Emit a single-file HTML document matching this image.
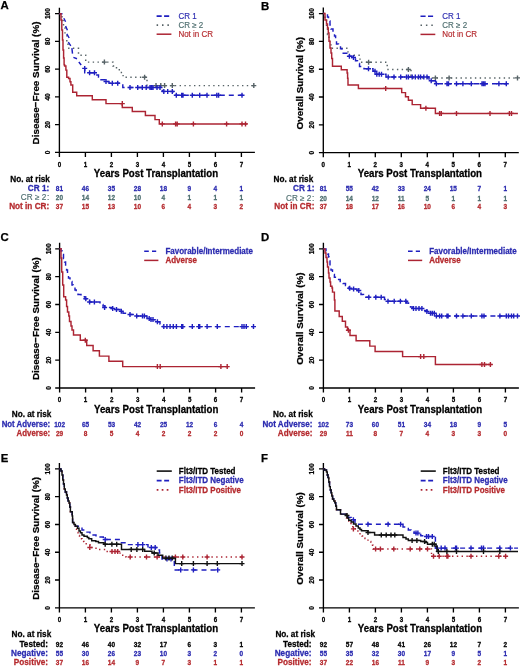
<!DOCTYPE html>
<html><head><meta charset="utf-8"><style>
html,body{margin:0;padding:0;background:#fff;}
svg{display:block;filter:blur(0.35px);}
text{font-family:"Liberation Sans",sans-serif;}
</style></head><body>
<svg width="520" height="666" viewBox="0 0 520 666">
<rect width="520" height="666" fill="#fff"/>
<text x="0.60" y="9.10" font-size="11.4" font-weight="bold" fill="#000" text-anchor="start" stroke="#000" stroke-width="0.25">A</text>
<path d="M59.4,7.63V152.4H254.90M55.00,152.40H59.4M55.00,124.64H59.4M55.00,96.88H59.4M55.00,69.12H59.4M55.00,41.36H59.4M55.00,13.60H59.4M59.40,152.4V157.00M85.40,152.4V157.00M111.40,152.4V157.00M137.40,152.4V157.00M163.40,152.4V157.00M189.40,152.4V157.00M215.40,152.4V157.00M241.40,152.4V157.00" stroke="#000" stroke-width="1.35" fill="none"/>
<text x="50.40" y="152.40" font-size="6.6" font-weight="bold" fill="#000" text-anchor="middle" stroke="#000" stroke-width="0.25" transform="rotate(-90 50.4 152.4)">0</text>
<text x="50.40" y="124.64" font-size="6.6" font-weight="bold" fill="#000" text-anchor="middle" stroke="#000" stroke-width="0.25" transform="rotate(-90 50.4 124.64000000000001)">20</text>
<text x="50.40" y="96.88" font-size="6.6" font-weight="bold" fill="#000" text-anchor="middle" stroke="#000" stroke-width="0.25" transform="rotate(-90 50.4 96.88000000000001)">40</text>
<text x="50.40" y="69.12" font-size="6.6" font-weight="bold" fill="#000" text-anchor="middle" stroke="#000" stroke-width="0.25" transform="rotate(-90 50.4 69.12)">60</text>
<text x="50.40" y="41.36" font-size="6.6" font-weight="bold" fill="#000" text-anchor="middle" stroke="#000" stroke-width="0.25" transform="rotate(-90 50.4 41.360000000000014)">80</text>
<text x="50.40" y="13.60" font-size="6.6" font-weight="bold" fill="#000" text-anchor="middle" stroke="#000" stroke-width="0.25" transform="rotate(-90 50.4 13.600000000000023)">100</text>
<text x="59.40" y="166.80" font-size="6.2" font-weight="bold" fill="#000" text-anchor="middle" stroke="#000" stroke-width="0.25" transform="translate(0 166.80) scale(1 1.18) translate(0 -166.80)">0</text>
<text x="85.40" y="166.80" font-size="6.2" font-weight="bold" fill="#000" text-anchor="middle" stroke="#000" stroke-width="0.25" transform="translate(0 166.80) scale(1 1.18) translate(0 -166.80)">1</text>
<text x="111.40" y="166.80" font-size="6.2" font-weight="bold" fill="#000" text-anchor="middle" stroke="#000" stroke-width="0.25" transform="translate(0 166.80) scale(1 1.18) translate(0 -166.80)">2</text>
<text x="137.40" y="166.80" font-size="6.2" font-weight="bold" fill="#000" text-anchor="middle" stroke="#000" stroke-width="0.25" transform="translate(0 166.80) scale(1 1.18) translate(0 -166.80)">3</text>
<text x="163.40" y="166.80" font-size="6.2" font-weight="bold" fill="#000" text-anchor="middle" stroke="#000" stroke-width="0.25" transform="translate(0 166.80) scale(1 1.18) translate(0 -166.80)">4</text>
<text x="189.40" y="166.80" font-size="6.2" font-weight="bold" fill="#000" text-anchor="middle" stroke="#000" stroke-width="0.25" transform="translate(0 166.80) scale(1 1.18) translate(0 -166.80)">5</text>
<text x="215.40" y="166.80" font-size="6.2" font-weight="bold" fill="#000" text-anchor="middle" stroke="#000" stroke-width="0.25" transform="translate(0 166.80) scale(1 1.18) translate(0 -166.80)">6</text>
<text x="241.40" y="166.80" font-size="6.2" font-weight="bold" fill="#000" text-anchor="middle" stroke="#000" stroke-width="0.25" transform="translate(0 166.80) scale(1 1.18) translate(0 -166.80)">7</text>
<text x="156.00" y="177.00" font-size="9.7" font-weight="bold" fill="#000" text-anchor="middle" stroke="#000" stroke-width="0.25" transform="translate(0 177.00) scale(1 1.04) translate(0 -177.00)">Years Post Transplantation</text>
<text x="39.10" y="83.00" font-size="9.85" font-weight="bold" fill="#000" text-anchor="middle" stroke="#000" stroke-width="0.25" transform="rotate(-90 39.099999999999994 83.0)">Disease−Free Survival (%)</text>
<path d="M156.60,16.10H169.20" stroke="#1f1fc0" stroke-width="1.6" fill="none" stroke-dasharray="5.1 2.4"/>
<text x="178.40" y="19.00" font-size="8.0" font-weight="normal" fill="#2b2bb0" text-anchor="start" stroke="#2b2bb0" stroke-width="0.15" transform="translate(0 19.00) scale(1 1.04) translate(0 -19.00)">CR 1</text>
<path d="M156.60,25.10H169.20" stroke="#566266" stroke-width="1.6" fill="none" stroke-dasharray="1.5 3.9"/>
<text x="178.40" y="28.00" font-size="8.0" font-weight="normal" fill="#4f6f70" text-anchor="start" stroke="#4f6f70" stroke-width="0.15" transform="translate(0 28.00) scale(1 1.04) translate(0 -28.00)">CR ≥ 2</text>
<path d="M156.60,34.20H171.40" stroke="#ac2433" stroke-width="1.5" fill="none" stroke-dasharray="none"/>
<text x="178.40" y="37.10" font-size="8.0" font-weight="normal" fill="#b52a2e" text-anchor="start" stroke="#b52a2e" stroke-width="0.15" transform="translate(0 37.10) scale(1 1.04) translate(0 -37.10)">Not in CR</text>
<path d="M59.5,13.7H62V20.6H63.5V27.5H65V34.5H66.8V41.4H68V48.3H78.5V55.2H85.7V62.1H113V66H116.5V69.8H120V72.5H122.3V75.6H124V77.3H147V85.6H254" stroke="#566266" stroke-width="1.45" fill="none" stroke-dasharray="1.4 3.4" stroke-dashoffset="0"/>
<path d="M101.90,62.10H106.90M104.40,59.60V64.60M142.10,77.30H147.10M144.60,74.80V79.80M153.50,85.60H158.50M156.00,83.10V88.10M158.30,85.60H163.30M160.80,83.10V88.10M162.10,85.60H167.10M164.60,83.10V88.10M169.80,85.60H174.80M172.30,83.10V88.10M251.30,85.60H256.30M253.80,83.10V88.10" stroke="#566266" stroke-width="1.4" fill="none"/>
<path d="M84.7,68.4V72.8H96V75H98.5V77H101V79.8H105V81.5H109V83.2H122.8V87.5H162.3V91.4H173.5V95.3H243" stroke="#1f1fc0" stroke-width="1.45" fill="none" stroke-dasharray="5 4" stroke-dashoffset="0"/>
<path d="M82.20,68.40H87.20M84.70,65.90V70.90M87.10,72.80H92.10M89.60,70.30V75.30M92.00,72.80H97.00M94.50,70.30V75.30M103.50,81.50H108.50M106.00,79.00V84.00M109.80,83.20H114.80M112.30,80.70V85.70M115.20,83.20H120.20M117.70,80.70V85.70M127.50,87.50H132.50M130.00,85.00V90.00M135.20,87.50H140.20M137.70,85.00V90.00M139.80,87.50H144.80M142.30,85.00V90.00M143.70,87.50H148.70M146.20,85.00V90.00M147.50,87.50H152.50M150.00,85.00V90.00M149.00,87.50H154.00M151.50,85.00V90.00M150.50,87.50H155.50M153.00,85.00V90.00M154.50,87.50H159.50M157.00,85.00V90.00M157.50,87.50H162.50M160.00,85.00V90.00M161.30,91.40H166.30M163.80,88.90V93.90M165.20,91.40H170.20M167.70,88.90V93.90M169.80,91.40H174.80M172.30,88.90V93.90M173.80,95.30H178.80M176.30,92.80V97.80M179.20,95.30H184.20M181.70,92.80V97.80M180.50,95.30H185.50M183.00,92.80V97.80M189.80,95.30H194.80M192.30,92.80V97.80M197.20,95.30H202.20M199.70,92.80V97.80M204.50,95.30H209.50M207.00,92.80V97.80M214.30,95.30H219.30M216.80,92.80V97.80M216.10,95.30H221.10M218.60,92.80V97.80M239.50,95.30H244.50M242.00,92.80V97.80" stroke="#1f1fc0" stroke-width="1.4" fill="none"/>
<path d="M59.5,13.7H62.5M63.8,18.2L65.6,21.8M65.6,26L67.4,30.2M66.8,33.8L69.2,38M68.3,42.2L70.8,45.8M71.9,48.2L72.5,53.6M73.4,57.4L77,58.8M78.8,62L81.2,65" stroke="#1f1fc0" stroke-width="1.45" fill="none" stroke-dasharray="none" stroke-dashoffset="0"/>
<path d="M59.5,13.7H61V20H61.8V30H62.5V40H63V50H63.6V58H64.1V64.7H64.6V66H65.9V70.1H66.8V77.3H68.6V78.5H70V81.8H70.9V85H72.7V92.2H76.7V95.8H92.3V99.8H106V103.6H122.3V107.5H132.3V111.5H145.4V115.5H155V119.6H159.3V123.9H247.3" stroke="#ac2433" stroke-width="1.45" fill="none" stroke-dasharray="none" stroke-dashoffset="0"/>
<path d="M119.80,103.60H124.80M122.30,101.10V106.10M159.80,123.90H164.80M162.30,121.40V126.40M173.10,123.90H178.10M175.60,121.40V126.40M174.70,123.90H179.70M177.20,121.40V126.40M190.90,123.90H195.90M193.40,121.40V126.40M224.10,123.90H229.10M226.60,121.40V126.40M239.50,123.90H244.50M242.00,121.40V126.40M243.00,123.90H248.00M245.50,121.40V126.40" stroke="#ac2433" stroke-width="1.4" fill="none"/>
<text x="10.30" y="181.60" font-size="8.2" font-weight="bold" fill="#000" text-anchor="start" stroke="#000" stroke-width="0.25" transform="translate(0 181.60) scale(1 1.04) translate(0 -181.60)">No. at risk</text>
<text x="49.20" y="191.20" font-size="8.2" font-weight="bold" fill="#2b2bb0" text-anchor="end" stroke="#2b2bb0" stroke-width="0.25" transform="translate(0 191.20) scale(1 1.04) translate(0 -191.20)">CR 1:</text>
<text x="59.40" y="191.20" font-size="6.5" font-weight="bold" fill="#2b2bb0" text-anchor="middle" stroke="#2b2bb0" stroke-width="0.25" transform="translate(0 191.20) scale(1 1.18) translate(0 -191.20)">81</text>
<text x="85.40" y="191.20" font-size="6.5" font-weight="bold" fill="#2b2bb0" text-anchor="middle" stroke="#2b2bb0" stroke-width="0.25" transform="translate(0 191.20) scale(1 1.18) translate(0 -191.20)">46</text>
<text x="111.40" y="191.20" font-size="6.5" font-weight="bold" fill="#2b2bb0" text-anchor="middle" stroke="#2b2bb0" stroke-width="0.25" transform="translate(0 191.20) scale(1 1.18) translate(0 -191.20)">35</text>
<text x="137.40" y="191.20" font-size="6.5" font-weight="bold" fill="#2b2bb0" text-anchor="middle" stroke="#2b2bb0" stroke-width="0.25" transform="translate(0 191.20) scale(1 1.18) translate(0 -191.20)">28</text>
<text x="163.40" y="191.20" font-size="6.5" font-weight="bold" fill="#2b2bb0" text-anchor="middle" stroke="#2b2bb0" stroke-width="0.25" transform="translate(0 191.20) scale(1 1.18) translate(0 -191.20)">18</text>
<text x="189.40" y="191.20" font-size="6.5" font-weight="bold" fill="#2b2bb0" text-anchor="middle" stroke="#2b2bb0" stroke-width="0.25" transform="translate(0 191.20) scale(1 1.18) translate(0 -191.20)">9</text>
<text x="215.40" y="191.20" font-size="6.5" font-weight="bold" fill="#2b2bb0" text-anchor="middle" stroke="#2b2bb0" stroke-width="0.25" transform="translate(0 191.20) scale(1 1.18) translate(0 -191.20)">4</text>
<text x="241.40" y="191.20" font-size="6.5" font-weight="bold" fill="#2b2bb0" text-anchor="middle" stroke="#2b2bb0" stroke-width="0.25" transform="translate(0 191.20) scale(1 1.18) translate(0 -191.20)">1</text>
<text x="49.20" y="200.40" font-size="8.2" font-weight="normal" fill="#4f6f70" text-anchor="end" stroke="#4f6f70" stroke-width="0.15" transform="translate(0 200.40) scale(1 1.04) translate(0 -200.40)">CR ≥ 2 :</text>
<text x="59.40" y="200.40" font-size="6.5" font-weight="bold" fill="#4f6f70" text-anchor="middle" stroke="#4f6f70" stroke-width="0.25" transform="translate(0 200.40) scale(1 1.18) translate(0 -200.40)">20</text>
<text x="85.40" y="200.40" font-size="6.5" font-weight="bold" fill="#4f6f70" text-anchor="middle" stroke="#4f6f70" stroke-width="0.25" transform="translate(0 200.40) scale(1 1.18) translate(0 -200.40)">14</text>
<text x="111.40" y="200.40" font-size="6.5" font-weight="bold" fill="#4f6f70" text-anchor="middle" stroke="#4f6f70" stroke-width="0.25" transform="translate(0 200.40) scale(1 1.18) translate(0 -200.40)">12</text>
<text x="137.40" y="200.40" font-size="6.5" font-weight="bold" fill="#4f6f70" text-anchor="middle" stroke="#4f6f70" stroke-width="0.25" transform="translate(0 200.40) scale(1 1.18) translate(0 -200.40)">10</text>
<text x="163.40" y="200.40" font-size="6.5" font-weight="bold" fill="#4f6f70" text-anchor="middle" stroke="#4f6f70" stroke-width="0.25" transform="translate(0 200.40) scale(1 1.18) translate(0 -200.40)">4</text>
<text x="189.40" y="200.40" font-size="6.5" font-weight="bold" fill="#4f6f70" text-anchor="middle" stroke="#4f6f70" stroke-width="0.25" transform="translate(0 200.40) scale(1 1.18) translate(0 -200.40)">1</text>
<text x="215.40" y="200.40" font-size="6.5" font-weight="bold" fill="#4f6f70" text-anchor="middle" stroke="#4f6f70" stroke-width="0.25" transform="translate(0 200.40) scale(1 1.18) translate(0 -200.40)">1</text>
<text x="241.40" y="200.40" font-size="6.5" font-weight="bold" fill="#4f6f70" text-anchor="middle" stroke="#4f6f70" stroke-width="0.25" transform="translate(0 200.40) scale(1 1.18) translate(0 -200.40)">1</text>
<text x="49.20" y="209.30" font-size="8.2" font-weight="bold" fill="#b52a2e" text-anchor="end" stroke="#b52a2e" stroke-width="0.25" transform="translate(0 209.30) scale(1 1.04) translate(0 -209.30)">Not in CR:</text>
<text x="59.40" y="209.30" font-size="6.5" font-weight="bold" fill="#b52a2e" text-anchor="middle" stroke="#b52a2e" stroke-width="0.25" transform="translate(0 209.30) scale(1 1.18) translate(0 -209.30)">37</text>
<text x="85.40" y="209.30" font-size="6.5" font-weight="bold" fill="#b52a2e" text-anchor="middle" stroke="#b52a2e" stroke-width="0.25" transform="translate(0 209.30) scale(1 1.18) translate(0 -209.30)">15</text>
<text x="111.40" y="209.30" font-size="6.5" font-weight="bold" fill="#b52a2e" text-anchor="middle" stroke="#b52a2e" stroke-width="0.25" transform="translate(0 209.30) scale(1 1.18) translate(0 -209.30)">13</text>
<text x="137.40" y="209.30" font-size="6.5" font-weight="bold" fill="#b52a2e" text-anchor="middle" stroke="#b52a2e" stroke-width="0.25" transform="translate(0 209.30) scale(1 1.18) translate(0 -209.30)">10</text>
<text x="163.40" y="209.30" font-size="6.5" font-weight="bold" fill="#b52a2e" text-anchor="middle" stroke="#b52a2e" stroke-width="0.25" transform="translate(0 209.30) scale(1 1.18) translate(0 -209.30)">6</text>
<text x="189.40" y="209.30" font-size="6.5" font-weight="bold" fill="#b52a2e" text-anchor="middle" stroke="#b52a2e" stroke-width="0.25" transform="translate(0 209.30) scale(1 1.18) translate(0 -209.30)">4</text>
<text x="215.40" y="209.30" font-size="6.5" font-weight="bold" fill="#b52a2e" text-anchor="middle" stroke="#b52a2e" stroke-width="0.25" transform="translate(0 209.30) scale(1 1.18) translate(0 -209.30)">3</text>
<text x="241.40" y="209.30" font-size="6.5" font-weight="bold" fill="#b52a2e" text-anchor="middle" stroke="#b52a2e" stroke-width="0.25" transform="translate(0 209.30) scale(1 1.18) translate(0 -209.30)">2</text>
<text x="261.00" y="9.50" font-size="11.4" font-weight="bold" fill="#000" text-anchor="start" stroke="#000" stroke-width="0.25">B</text>
<path d="M323.3,7.62V152.6H518.80M318.90,152.60H323.3M318.90,124.80H323.3M318.90,97.00H323.3M318.90,69.20H323.3M318.90,41.40H323.3M318.90,13.60H323.3M323.30,152.6V157.20M349.30,152.6V157.20M375.30,152.6V157.20M401.30,152.6V157.20M427.30,152.6V157.20M453.30,152.6V157.20M479.30,152.6V157.20M505.30,152.6V157.20" stroke="#000" stroke-width="1.35" fill="none"/>
<text x="314.30" y="152.60" font-size="6.6" font-weight="bold" fill="#000" text-anchor="middle" stroke="#000" stroke-width="0.25" transform="rotate(-90 314.3 152.6)">0</text>
<text x="314.30" y="124.80" font-size="6.6" font-weight="bold" fill="#000" text-anchor="middle" stroke="#000" stroke-width="0.25" transform="rotate(-90 314.3 124.8)">20</text>
<text x="314.30" y="97.00" font-size="6.6" font-weight="bold" fill="#000" text-anchor="middle" stroke="#000" stroke-width="0.25" transform="rotate(-90 314.3 97.0)">40</text>
<text x="314.30" y="69.20" font-size="6.6" font-weight="bold" fill="#000" text-anchor="middle" stroke="#000" stroke-width="0.25" transform="rotate(-90 314.3 69.2)">60</text>
<text x="314.30" y="41.40" font-size="6.6" font-weight="bold" fill="#000" text-anchor="middle" stroke="#000" stroke-width="0.25" transform="rotate(-90 314.3 41.400000000000006)">80</text>
<text x="314.30" y="13.60" font-size="6.6" font-weight="bold" fill="#000" text-anchor="middle" stroke="#000" stroke-width="0.25" transform="rotate(-90 314.3 13.599999999999994)">100</text>
<text x="323.30" y="167.00" font-size="6.2" font-weight="bold" fill="#000" text-anchor="middle" stroke="#000" stroke-width="0.25" transform="translate(0 167.00) scale(1 1.18) translate(0 -167.00)">0</text>
<text x="349.30" y="167.00" font-size="6.2" font-weight="bold" fill="#000" text-anchor="middle" stroke="#000" stroke-width="0.25" transform="translate(0 167.00) scale(1 1.18) translate(0 -167.00)">1</text>
<text x="375.30" y="167.00" font-size="6.2" font-weight="bold" fill="#000" text-anchor="middle" stroke="#000" stroke-width="0.25" transform="translate(0 167.00) scale(1 1.18) translate(0 -167.00)">2</text>
<text x="401.30" y="167.00" font-size="6.2" font-weight="bold" fill="#000" text-anchor="middle" stroke="#000" stroke-width="0.25" transform="translate(0 167.00) scale(1 1.18) translate(0 -167.00)">3</text>
<text x="427.30" y="167.00" font-size="6.2" font-weight="bold" fill="#000" text-anchor="middle" stroke="#000" stroke-width="0.25" transform="translate(0 167.00) scale(1 1.18) translate(0 -167.00)">4</text>
<text x="453.30" y="167.00" font-size="6.2" font-weight="bold" fill="#000" text-anchor="middle" stroke="#000" stroke-width="0.25" transform="translate(0 167.00) scale(1 1.18) translate(0 -167.00)">5</text>
<text x="479.30" y="167.00" font-size="6.2" font-weight="bold" fill="#000" text-anchor="middle" stroke="#000" stroke-width="0.25" transform="translate(0 167.00) scale(1 1.18) translate(0 -167.00)">6</text>
<text x="505.30" y="167.00" font-size="6.2" font-weight="bold" fill="#000" text-anchor="middle" stroke="#000" stroke-width="0.25" transform="translate(0 167.00) scale(1 1.18) translate(0 -167.00)">7</text>
<text x="419.90" y="177.20" font-size="9.7" font-weight="bold" fill="#000" text-anchor="middle" stroke="#000" stroke-width="0.25" transform="translate(0 177.20) scale(1 1.04) translate(0 -177.20)">Years Post Transplantation</text>
<text x="303.00" y="83.20" font-size="9.85" font-weight="bold" fill="#000" text-anchor="middle" stroke="#000" stroke-width="0.25" transform="rotate(-90 303.0 83.19999999999999)">Overall Survival (%)</text>
<path d="M420.50,16.30H433.10" stroke="#1f1fc0" stroke-width="1.6" fill="none" stroke-dasharray="5.1 2.4"/>
<text x="442.30" y="19.20" font-size="8.0" font-weight="normal" fill="#2b2bb0" text-anchor="start" stroke="#2b2bb0" stroke-width="0.15" transform="translate(0 19.20) scale(1 1.04) translate(0 -19.20)">CR 1</text>
<path d="M420.50,25.30H433.10" stroke="#566266" stroke-width="1.6" fill="none" stroke-dasharray="1.5 3.9"/>
<text x="442.30" y="28.20" font-size="8.0" font-weight="normal" fill="#4f6f70" text-anchor="start" stroke="#4f6f70" stroke-width="0.15" transform="translate(0 28.20) scale(1 1.04) translate(0 -28.20)">CR ≥ 2</text>
<path d="M420.50,34.40H435.30" stroke="#ac2433" stroke-width="1.5" fill="none" stroke-dasharray="none"/>
<text x="442.30" y="37.30" font-size="8.0" font-weight="normal" fill="#b52a2e" text-anchor="start" stroke="#b52a2e" stroke-width="0.15" transform="translate(0 37.30) scale(1 1.04) translate(0 -37.30)">Not in CR</text>
<path d="M323.3,13.5H325V20.5H326.5V27.5H327.5V34.5H329V41.4H331V48.3H348V55.2H360V62.2H387.2V69.5H411V77.9H518" stroke="#566266" stroke-width="1.45" fill="none" stroke-dasharray="1.4 3.4" stroke-dashoffset="0"/>
<path d="M366.10,62.20H371.10M368.60,59.70V64.70M405.90,69.50H410.90M408.40,67.00V72.00M432.90,77.90H437.90M435.40,75.40V80.40M446.60,77.90H451.60M449.10,75.40V80.40M515.00,77.90H520.00M517.50,75.40V80.40" stroke="#566266" stroke-width="1.4" fill="none"/>
<path d="M323.3,13.5H327.5V17H328.5V21H330V25H331V29H333V32.5H334.5V36H335.6V40H336.5V44H338.5V46H340.5V48.7H342V53.3H347.5V56.2H352V57.5H355.5V60.8H357.5V63.5H359.5V66.5H364V68.8H373V71.2H375.7V74.3H386V77H429V80.7H435.4V83.8H507.3" stroke="#1f1fc0" stroke-width="1.45" fill="none" stroke-dasharray="5 4" stroke-dashoffset="4"/>
<path d="M346.90,56.20H351.90M349.40,53.70V58.70M351.00,57.50H356.00M353.50,55.00V60.00M366.00,68.80H371.00M368.50,66.30V71.30M372.50,71.20H377.50M375.00,68.70V73.70M374.30,74.30H379.30M376.80,71.80V76.80M376.70,74.30H381.70M379.20,71.80V76.80M379.00,74.30H384.00M381.50,71.80V76.80M385.70,77.00H390.70M388.20,74.50V79.50M391.50,77.00H396.50M394.00,74.50V79.50M398.20,77.00H403.20M400.70,74.50V79.50M404.00,77.00H409.00M406.50,74.50V79.50M405.90,77.00H410.90M408.40,74.50V79.50M409.70,77.00H414.70M412.20,74.50V79.50M412.80,77.00H417.80M415.30,74.50V79.50M416.00,77.00H421.00M418.50,74.50V79.50M418.10,77.00H423.10M420.60,74.50V79.50M421.30,77.00H426.30M423.80,74.50V79.50M424.50,77.00H429.50M427.00,74.50V79.50M428.70,80.70H433.70M431.20,78.20V83.20M433.90,83.80H438.90M436.40,81.30V86.30M444.50,83.80H449.50M447.00,81.30V86.30M446.00,83.80H451.00M448.50,81.30V86.30M454.00,83.80H459.00M456.50,81.30V86.30M460.40,83.80H465.40M462.90,81.30V86.30M468.80,83.80H473.80M471.30,81.30V86.30M479.50,83.80H484.50M482.00,81.30V86.30M481.00,83.80H486.00M483.50,81.30V86.30M482.50,83.80H487.50M485.00,81.30V86.30M496.40,83.80H501.40M498.90,81.30V86.30M503.80,83.80H508.80M506.30,81.30V86.30" stroke="#1f1fc0" stroke-width="1.4" fill="none"/>
<path d="M323.3,13.5H325V20H326.5V24H327.5V28H328.3V33H329V41.2H330V48H331V53H331.7V58.5H332.5V66.2H341.3V69.8H347.1V72.9H347.6V78.2H348V84.9H358.4V88.4H401.7V92.6H405.5V96.8H408.4V100.2H412.2V104.6H420.6V108.2H435.4V113.4H517.9" stroke="#ac2433" stroke-width="1.45" fill="none" stroke-dasharray="none" stroke-dashoffset="0"/>
<path d="M383.20,88.40H388.20M385.70,85.90V90.90M423.40,108.20H428.40M425.90,105.70V110.70M437.10,113.40H442.10M439.60,110.90V115.90M438.80,113.40H443.80M441.30,110.90V115.90M454.00,113.40H459.00M456.50,110.90V115.90M487.50,113.40H492.50M490.00,110.90V115.90M506.90,113.40H511.90M509.40,110.90V115.90M509.00,113.40H514.00M511.50,110.90V115.90" stroke="#ac2433" stroke-width="1.4" fill="none"/>
<text x="273.60" y="181.80" font-size="8.2" font-weight="bold" fill="#000" text-anchor="start" stroke="#000" stroke-width="0.25" transform="translate(0 181.80) scale(1 1.04) translate(0 -181.80)">No. at risk</text>
<text x="314.40" y="191.40" font-size="8.2" font-weight="bold" fill="#2b2bb0" text-anchor="end" stroke="#2b2bb0" stroke-width="0.25" transform="translate(0 191.40) scale(1 1.04) translate(0 -191.40)">CR 1:</text>
<text x="323.30" y="191.40" font-size="6.5" font-weight="bold" fill="#2b2bb0" text-anchor="middle" stroke="#2b2bb0" stroke-width="0.25" transform="translate(0 191.40) scale(1 1.18) translate(0 -191.40)">81</text>
<text x="349.30" y="191.40" font-size="6.5" font-weight="bold" fill="#2b2bb0" text-anchor="middle" stroke="#2b2bb0" stroke-width="0.25" transform="translate(0 191.40) scale(1 1.18) translate(0 -191.40)">55</text>
<text x="375.30" y="191.40" font-size="6.5" font-weight="bold" fill="#2b2bb0" text-anchor="middle" stroke="#2b2bb0" stroke-width="0.25" transform="translate(0 191.40) scale(1 1.18) translate(0 -191.40)">42</text>
<text x="401.30" y="191.40" font-size="6.5" font-weight="bold" fill="#2b2bb0" text-anchor="middle" stroke="#2b2bb0" stroke-width="0.25" transform="translate(0 191.40) scale(1 1.18) translate(0 -191.40)">33</text>
<text x="427.30" y="191.40" font-size="6.5" font-weight="bold" fill="#2b2bb0" text-anchor="middle" stroke="#2b2bb0" stroke-width="0.25" transform="translate(0 191.40) scale(1 1.18) translate(0 -191.40)">24</text>
<text x="453.30" y="191.40" font-size="6.5" font-weight="bold" fill="#2b2bb0" text-anchor="middle" stroke="#2b2bb0" stroke-width="0.25" transform="translate(0 191.40) scale(1 1.18) translate(0 -191.40)">15</text>
<text x="479.30" y="191.40" font-size="6.5" font-weight="bold" fill="#2b2bb0" text-anchor="middle" stroke="#2b2bb0" stroke-width="0.25" transform="translate(0 191.40) scale(1 1.18) translate(0 -191.40)">7</text>
<text x="505.30" y="191.40" font-size="6.5" font-weight="bold" fill="#2b2bb0" text-anchor="middle" stroke="#2b2bb0" stroke-width="0.25" transform="translate(0 191.40) scale(1 1.18) translate(0 -191.40)">1</text>
<text x="314.40" y="200.60" font-size="8.2" font-weight="normal" fill="#4f6f70" text-anchor="end" stroke="#4f6f70" stroke-width="0.15" transform="translate(0 200.60) scale(1 1.04) translate(0 -200.60)">CR ≥ 2 :</text>
<text x="323.30" y="200.60" font-size="6.5" font-weight="bold" fill="#4f6f70" text-anchor="middle" stroke="#4f6f70" stroke-width="0.25" transform="translate(0 200.60) scale(1 1.18) translate(0 -200.60)">20</text>
<text x="349.30" y="200.60" font-size="6.5" font-weight="bold" fill="#4f6f70" text-anchor="middle" stroke="#4f6f70" stroke-width="0.25" transform="translate(0 200.60) scale(1 1.18) translate(0 -200.60)">14</text>
<text x="375.30" y="200.60" font-size="6.5" font-weight="bold" fill="#4f6f70" text-anchor="middle" stroke="#4f6f70" stroke-width="0.25" transform="translate(0 200.60) scale(1 1.18) translate(0 -200.60)">12</text>
<text x="401.30" y="200.60" font-size="6.5" font-weight="bold" fill="#4f6f70" text-anchor="middle" stroke="#4f6f70" stroke-width="0.25" transform="translate(0 200.60) scale(1 1.18) translate(0 -200.60)">11</text>
<text x="427.30" y="200.60" font-size="6.5" font-weight="bold" fill="#4f6f70" text-anchor="middle" stroke="#4f6f70" stroke-width="0.25" transform="translate(0 200.60) scale(1 1.18) translate(0 -200.60)">5</text>
<text x="453.30" y="200.60" font-size="6.5" font-weight="bold" fill="#4f6f70" text-anchor="middle" stroke="#4f6f70" stroke-width="0.25" transform="translate(0 200.60) scale(1 1.18) translate(0 -200.60)">1</text>
<text x="479.30" y="200.60" font-size="6.5" font-weight="bold" fill="#4f6f70" text-anchor="middle" stroke="#4f6f70" stroke-width="0.25" transform="translate(0 200.60) scale(1 1.18) translate(0 -200.60)">1</text>
<text x="505.30" y="200.60" font-size="6.5" font-weight="bold" fill="#4f6f70" text-anchor="middle" stroke="#4f6f70" stroke-width="0.25" transform="translate(0 200.60) scale(1 1.18) translate(0 -200.60)">1</text>
<text x="314.40" y="209.50" font-size="8.2" font-weight="bold" fill="#b52a2e" text-anchor="end" stroke="#b52a2e" stroke-width="0.25" transform="translate(0 209.50) scale(1 1.04) translate(0 -209.50)">Not in CR:</text>
<text x="323.30" y="209.50" font-size="6.5" font-weight="bold" fill="#b52a2e" text-anchor="middle" stroke="#b52a2e" stroke-width="0.25" transform="translate(0 209.50) scale(1 1.18) translate(0 -209.50)">37</text>
<text x="349.30" y="209.50" font-size="6.5" font-weight="bold" fill="#b52a2e" text-anchor="middle" stroke="#b52a2e" stroke-width="0.25" transform="translate(0 209.50) scale(1 1.18) translate(0 -209.50)">18</text>
<text x="375.30" y="209.50" font-size="6.5" font-weight="bold" fill="#b52a2e" text-anchor="middle" stroke="#b52a2e" stroke-width="0.25" transform="translate(0 209.50) scale(1 1.18) translate(0 -209.50)">17</text>
<text x="401.30" y="209.50" font-size="6.5" font-weight="bold" fill="#b52a2e" text-anchor="middle" stroke="#b52a2e" stroke-width="0.25" transform="translate(0 209.50) scale(1 1.18) translate(0 -209.50)">16</text>
<text x="427.30" y="209.50" font-size="6.5" font-weight="bold" fill="#b52a2e" text-anchor="middle" stroke="#b52a2e" stroke-width="0.25" transform="translate(0 209.50) scale(1 1.18) translate(0 -209.50)">10</text>
<text x="453.30" y="209.50" font-size="6.5" font-weight="bold" fill="#b52a2e" text-anchor="middle" stroke="#b52a2e" stroke-width="0.25" transform="translate(0 209.50) scale(1 1.18) translate(0 -209.50)">6</text>
<text x="479.30" y="209.50" font-size="6.5" font-weight="bold" fill="#b52a2e" text-anchor="middle" stroke="#b52a2e" stroke-width="0.25" transform="translate(0 209.50) scale(1 1.18) translate(0 -209.50)">4</text>
<text x="505.30" y="209.50" font-size="6.5" font-weight="bold" fill="#b52a2e" text-anchor="middle" stroke="#b52a2e" stroke-width="0.25" transform="translate(0 209.50) scale(1 1.18) translate(0 -209.50)">3</text>
<text x="0.60" y="240.80" font-size="11.4" font-weight="bold" fill="#000" text-anchor="start" stroke="#000" stroke-width="0.25">C</text>
<path d="M59.6,242.81V388.0H255.10M55.20,388.00H59.6M55.20,360.16H59.6M55.20,332.32H59.6M55.20,304.48H59.6M55.20,276.64H59.6M55.20,248.80H59.6M59.60,388.0V392.60M85.60,388.0V392.60M111.60,388.0V392.60M137.60,388.0V392.60M163.60,388.0V392.60M189.60,388.0V392.60M215.60,388.0V392.60M241.60,388.0V392.60" stroke="#000" stroke-width="1.35" fill="none"/>
<text x="50.60" y="388.00" font-size="6.6" font-weight="bold" fill="#000" text-anchor="middle" stroke="#000" stroke-width="0.25" transform="rotate(-90 50.6 388.0)">0</text>
<text x="50.60" y="360.16" font-size="6.6" font-weight="bold" fill="#000" text-anchor="middle" stroke="#000" stroke-width="0.25" transform="rotate(-90 50.6 360.16)">20</text>
<text x="50.60" y="332.32" font-size="6.6" font-weight="bold" fill="#000" text-anchor="middle" stroke="#000" stroke-width="0.25" transform="rotate(-90 50.6 332.32)">40</text>
<text x="50.60" y="304.48" font-size="6.6" font-weight="bold" fill="#000" text-anchor="middle" stroke="#000" stroke-width="0.25" transform="rotate(-90 50.6 304.48)">60</text>
<text x="50.60" y="276.64" font-size="6.6" font-weight="bold" fill="#000" text-anchor="middle" stroke="#000" stroke-width="0.25" transform="rotate(-90 50.6 276.64)">80</text>
<text x="50.60" y="248.80" font-size="6.6" font-weight="bold" fill="#000" text-anchor="middle" stroke="#000" stroke-width="0.25" transform="rotate(-90 50.6 248.8)">100</text>
<text x="59.60" y="402.40" font-size="6.2" font-weight="bold" fill="#000" text-anchor="middle" stroke="#000" stroke-width="0.25" transform="translate(0 402.40) scale(1 1.18) translate(0 -402.40)">0</text>
<text x="85.60" y="402.40" font-size="6.2" font-weight="bold" fill="#000" text-anchor="middle" stroke="#000" stroke-width="0.25" transform="translate(0 402.40) scale(1 1.18) translate(0 -402.40)">1</text>
<text x="111.60" y="402.40" font-size="6.2" font-weight="bold" fill="#000" text-anchor="middle" stroke="#000" stroke-width="0.25" transform="translate(0 402.40) scale(1 1.18) translate(0 -402.40)">2</text>
<text x="137.60" y="402.40" font-size="6.2" font-weight="bold" fill="#000" text-anchor="middle" stroke="#000" stroke-width="0.25" transform="translate(0 402.40) scale(1 1.18) translate(0 -402.40)">3</text>
<text x="163.60" y="402.40" font-size="6.2" font-weight="bold" fill="#000" text-anchor="middle" stroke="#000" stroke-width="0.25" transform="translate(0 402.40) scale(1 1.18) translate(0 -402.40)">4</text>
<text x="189.60" y="402.40" font-size="6.2" font-weight="bold" fill="#000" text-anchor="middle" stroke="#000" stroke-width="0.25" transform="translate(0 402.40) scale(1 1.18) translate(0 -402.40)">5</text>
<text x="215.60" y="402.40" font-size="6.2" font-weight="bold" fill="#000" text-anchor="middle" stroke="#000" stroke-width="0.25" transform="translate(0 402.40) scale(1 1.18) translate(0 -402.40)">6</text>
<text x="241.60" y="402.40" font-size="6.2" font-weight="bold" fill="#000" text-anchor="middle" stroke="#000" stroke-width="0.25" transform="translate(0 402.40) scale(1 1.18) translate(0 -402.40)">7</text>
<text x="156.20" y="412.60" font-size="9.7" font-weight="bold" fill="#000" text-anchor="middle" stroke="#000" stroke-width="0.25" transform="translate(0 412.60) scale(1 1.04) translate(0 -412.60)">Years Post Transplantation</text>
<text x="39.30" y="318.60" font-size="9.85" font-weight="bold" fill="#000" text-anchor="middle" stroke="#000" stroke-width="0.25" transform="rotate(-90 39.3 318.6)">Disease−Free Survival (%)</text>
<path d="M144.20,251.20H156.20" stroke="#1f1fc0" stroke-width="1.6" fill="none" stroke-dasharray="4.6 3.2"/>
<text x="165.40" y="254.10" font-size="8.0" font-weight="bold" fill="#2b2bb0" text-anchor="start" stroke="#2b2bb0" stroke-width="0.25" transform="translate(0 254.10) scale(1 1.04) translate(0 -254.10)">Favorable/Intermediate</text>
<path d="M144.20,260.40H158.40" stroke="#ac2433" stroke-width="1.5" fill="none" stroke-dasharray="none"/>
<text x="165.40" y="263.30" font-size="8.0" font-weight="bold" fill="#b52a2e" text-anchor="start" stroke="#b52a2e" stroke-width="0.25" transform="translate(0 263.30) scale(1 1.04) translate(0 -263.30)">Adverse</text>
<path d="M59.6,248.8H61V251H62.2V254.5H63.5V258.5H64.6V262H65.6V266H66.6V270H67.5V274H68.5V278H70V281.5H72V285H73.3V287.2H75V290H76.2V292H78V294.5H81V296.8H85V298.8H88V300.5H89.6V302H100V304.5H103V306H105V307.5H112V308.5H116V309.5H120V311.3H123V313.2H128V314.5H134V316H147V318.5H150V319.6H155V321.7H160V324H162.7V326.6H253.7" stroke="#1f1fc0" stroke-width="1.45" fill="none" stroke-dasharray="5 4" stroke-dashoffset="0"/>
<path d="M83.30,298.80H88.30M85.80,296.30V301.30M87.10,302.00H92.10M89.60,299.50V304.50M91.90,302.00H96.90M94.40,299.50V304.50M102.10,307.50H107.10M104.60,305.00V310.00M110.20,308.50H115.20M112.70,306.00V311.00M114.00,309.50H119.00M116.50,307.00V312.00M118.80,311.30H123.80M121.30,308.80V313.80M127.50,314.50H132.50M130.00,312.00V317.00M134.20,316.00H139.20M136.70,313.50V318.50M140.00,316.00H145.00M142.50,313.50V318.50M141.90,316.00H146.90M144.40,313.50V318.50M146.70,318.50H151.70M149.20,316.00V321.00M148.50,319.60H153.50M151.00,317.10V322.10M150.50,319.60H155.50M153.00,317.10V322.10M154.90,321.70H159.90M157.40,319.20V324.20M161.30,326.60H166.30M163.80,324.10V329.10M164.40,326.60H169.40M166.90,324.10V329.10M167.60,326.60H172.60M170.10,324.10V329.10M170.80,326.60H175.80M173.30,324.10V329.10M173.90,326.60H178.90M176.40,324.10V329.10M179.20,326.60H184.20M181.70,324.10V329.10M180.30,326.60H185.30M182.80,324.10V329.10M189.80,326.60H194.80M192.30,324.10V329.10M196.20,326.60H201.20M198.70,324.10V329.10M197.20,326.60H202.20M199.70,324.10V329.10M204.60,326.60H209.60M207.10,324.10V329.10M214.80,326.60H219.80M217.30,324.10V329.10M239.50,326.60H244.50M242.00,324.10V329.10M241.50,326.60H246.50M244.00,324.10V329.10M243.80,326.60H248.80M246.30,324.10V329.10M251.00,326.60H256.00M253.50,324.10V329.10" stroke="#1f1fc0" stroke-width="1.4" fill="none"/>
<path d="M59.6,248.8H61V258H61.7V272H62.7V285H63.7V296.8H65.6V300H66.6V306.5H67.5V312H68.8V316H69.5V321.5H71V326H72V330H73.5V335H80.3V340.2H86.7V345.5H93.1V350.8H99.4V356.1H108.9V361.3H122.7V366.6H228.3" stroke="#ac2433" stroke-width="1.45" fill="none" stroke-dasharray="none" stroke-dashoffset="0"/>
<path d="M82.80,340.20H87.80M85.30,337.70V342.70M154.90,366.60H159.90M157.40,364.10V369.10M157.70,366.60H162.70M160.20,364.10V369.10M218.40,366.60H223.40M220.90,364.10V369.10M224.70,366.60H229.70M227.20,364.10V369.10" stroke="#ac2433" stroke-width="1.4" fill="none"/>
<text x="11.80" y="417.20" font-size="8.2" font-weight="bold" fill="#000" text-anchor="start" stroke="#000" stroke-width="0.25" transform="translate(0 417.20) scale(1 1.04) translate(0 -417.20)">No. at risk</text>
<text x="50.20" y="426.80" font-size="7.85" font-weight="bold" fill="#2b2bb0" text-anchor="end" stroke="#2b2bb0" stroke-width="0.25" transform="translate(0 426.80) scale(1 1.04) translate(0 -426.80)">Not Adverse:</text>
<text x="59.60" y="426.80" font-size="6.5" font-weight="bold" fill="#2b2bb0" text-anchor="middle" stroke="#2b2bb0" stroke-width="0.25" transform="translate(0 426.80) scale(1 1.18) translate(0 -426.80)">102</text>
<text x="85.60" y="426.80" font-size="6.5" font-weight="bold" fill="#2b2bb0" text-anchor="middle" stroke="#2b2bb0" stroke-width="0.25" transform="translate(0 426.80) scale(1 1.18) translate(0 -426.80)">65</text>
<text x="111.60" y="426.80" font-size="6.5" font-weight="bold" fill="#2b2bb0" text-anchor="middle" stroke="#2b2bb0" stroke-width="0.25" transform="translate(0 426.80) scale(1 1.18) translate(0 -426.80)">53</text>
<text x="137.60" y="426.80" font-size="6.5" font-weight="bold" fill="#2b2bb0" text-anchor="middle" stroke="#2b2bb0" stroke-width="0.25" transform="translate(0 426.80) scale(1 1.18) translate(0 -426.80)">42</text>
<text x="163.60" y="426.80" font-size="6.5" font-weight="bold" fill="#2b2bb0" text-anchor="middle" stroke="#2b2bb0" stroke-width="0.25" transform="translate(0 426.80) scale(1 1.18) translate(0 -426.80)">25</text>
<text x="189.60" y="426.80" font-size="6.5" font-weight="bold" fill="#2b2bb0" text-anchor="middle" stroke="#2b2bb0" stroke-width="0.25" transform="translate(0 426.80) scale(1 1.18) translate(0 -426.80)">12</text>
<text x="215.60" y="426.80" font-size="6.5" font-weight="bold" fill="#2b2bb0" text-anchor="middle" stroke="#2b2bb0" stroke-width="0.25" transform="translate(0 426.80) scale(1 1.18) translate(0 -426.80)">6</text>
<text x="241.60" y="426.80" font-size="6.5" font-weight="bold" fill="#2b2bb0" text-anchor="middle" stroke="#2b2bb0" stroke-width="0.25" transform="translate(0 426.80) scale(1 1.18) translate(0 -426.80)">4</text>
<text x="50.20" y="436.00" font-size="7.85" font-weight="bold" fill="#b52a2e" text-anchor="end" stroke="#b52a2e" stroke-width="0.25" transform="translate(0 436.00) scale(1 1.04) translate(0 -436.00)">Adverse:</text>
<text x="59.60" y="436.00" font-size="6.5" font-weight="bold" fill="#b52a2e" text-anchor="middle" stroke="#b52a2e" stroke-width="0.25" transform="translate(0 436.00) scale(1 1.18) translate(0 -436.00)">29</text>
<text x="85.60" y="436.00" font-size="6.5" font-weight="bold" fill="#b52a2e" text-anchor="middle" stroke="#b52a2e" stroke-width="0.25" transform="translate(0 436.00) scale(1 1.18) translate(0 -436.00)">8</text>
<text x="111.60" y="436.00" font-size="6.5" font-weight="bold" fill="#b52a2e" text-anchor="middle" stroke="#b52a2e" stroke-width="0.25" transform="translate(0 436.00) scale(1 1.18) translate(0 -436.00)">5</text>
<text x="137.60" y="436.00" font-size="6.5" font-weight="bold" fill="#b52a2e" text-anchor="middle" stroke="#b52a2e" stroke-width="0.25" transform="translate(0 436.00) scale(1 1.18) translate(0 -436.00)">4</text>
<text x="163.60" y="436.00" font-size="6.5" font-weight="bold" fill="#b52a2e" text-anchor="middle" stroke="#b52a2e" stroke-width="0.25" transform="translate(0 436.00) scale(1 1.18) translate(0 -436.00)">2</text>
<text x="189.60" y="436.00" font-size="6.5" font-weight="bold" fill="#b52a2e" text-anchor="middle" stroke="#b52a2e" stroke-width="0.25" transform="translate(0 436.00) scale(1 1.18) translate(0 -436.00)">2</text>
<text x="215.60" y="436.00" font-size="6.5" font-weight="bold" fill="#b52a2e" text-anchor="middle" stroke="#b52a2e" stroke-width="0.25" transform="translate(0 436.00) scale(1 1.18) translate(0 -436.00)">2</text>
<text x="241.60" y="436.00" font-size="6.5" font-weight="bold" fill="#b52a2e" text-anchor="middle" stroke="#b52a2e" stroke-width="0.25" transform="translate(0 436.00) scale(1 1.18) translate(0 -436.00)">0</text>
<text x="261.00" y="240.80" font-size="11.4" font-weight="bold" fill="#000" text-anchor="start" stroke="#000" stroke-width="0.25">D</text>
<path d="M323.4,242.81V388.0H518.90M319.00,388.00H323.4M319.00,360.16H323.4M319.00,332.32H323.4M319.00,304.48H323.4M319.00,276.64H323.4M319.00,248.80H323.4M323.40,388.0V392.60M349.40,388.0V392.60M375.40,388.0V392.60M401.40,388.0V392.60M427.40,388.0V392.60M453.40,388.0V392.60M479.40,388.0V392.60M505.40,388.0V392.60" stroke="#000" stroke-width="1.35" fill="none"/>
<text x="314.40" y="388.00" font-size="6.6" font-weight="bold" fill="#000" text-anchor="middle" stroke="#000" stroke-width="0.25" transform="rotate(-90 314.4 388.0)">0</text>
<text x="314.40" y="360.16" font-size="6.6" font-weight="bold" fill="#000" text-anchor="middle" stroke="#000" stroke-width="0.25" transform="rotate(-90 314.4 360.16)">20</text>
<text x="314.40" y="332.32" font-size="6.6" font-weight="bold" fill="#000" text-anchor="middle" stroke="#000" stroke-width="0.25" transform="rotate(-90 314.4 332.32)">40</text>
<text x="314.40" y="304.48" font-size="6.6" font-weight="bold" fill="#000" text-anchor="middle" stroke="#000" stroke-width="0.25" transform="rotate(-90 314.4 304.48)">60</text>
<text x="314.40" y="276.64" font-size="6.6" font-weight="bold" fill="#000" text-anchor="middle" stroke="#000" stroke-width="0.25" transform="rotate(-90 314.4 276.64)">80</text>
<text x="314.40" y="248.80" font-size="6.6" font-weight="bold" fill="#000" text-anchor="middle" stroke="#000" stroke-width="0.25" transform="rotate(-90 314.4 248.8)">100</text>
<text x="323.40" y="402.40" font-size="6.2" font-weight="bold" fill="#000" text-anchor="middle" stroke="#000" stroke-width="0.25" transform="translate(0 402.40) scale(1 1.18) translate(0 -402.40)">0</text>
<text x="349.40" y="402.40" font-size="6.2" font-weight="bold" fill="#000" text-anchor="middle" stroke="#000" stroke-width="0.25" transform="translate(0 402.40) scale(1 1.18) translate(0 -402.40)">1</text>
<text x="375.40" y="402.40" font-size="6.2" font-weight="bold" fill="#000" text-anchor="middle" stroke="#000" stroke-width="0.25" transform="translate(0 402.40) scale(1 1.18) translate(0 -402.40)">2</text>
<text x="401.40" y="402.40" font-size="6.2" font-weight="bold" fill="#000" text-anchor="middle" stroke="#000" stroke-width="0.25" transform="translate(0 402.40) scale(1 1.18) translate(0 -402.40)">3</text>
<text x="427.40" y="402.40" font-size="6.2" font-weight="bold" fill="#000" text-anchor="middle" stroke="#000" stroke-width="0.25" transform="translate(0 402.40) scale(1 1.18) translate(0 -402.40)">4</text>
<text x="453.40" y="402.40" font-size="6.2" font-weight="bold" fill="#000" text-anchor="middle" stroke="#000" stroke-width="0.25" transform="translate(0 402.40) scale(1 1.18) translate(0 -402.40)">5</text>
<text x="479.40" y="402.40" font-size="6.2" font-weight="bold" fill="#000" text-anchor="middle" stroke="#000" stroke-width="0.25" transform="translate(0 402.40) scale(1 1.18) translate(0 -402.40)">6</text>
<text x="505.40" y="402.40" font-size="6.2" font-weight="bold" fill="#000" text-anchor="middle" stroke="#000" stroke-width="0.25" transform="translate(0 402.40) scale(1 1.18) translate(0 -402.40)">7</text>
<text x="420.00" y="412.60" font-size="9.7" font-weight="bold" fill="#000" text-anchor="middle" stroke="#000" stroke-width="0.25" transform="translate(0 412.60) scale(1 1.04) translate(0 -412.60)">Years Post Transplantation</text>
<text x="303.10" y="318.60" font-size="9.85" font-weight="bold" fill="#000" text-anchor="middle" stroke="#000" stroke-width="0.25" transform="rotate(-90 303.09999999999997 318.6)">Overall Survival (%)</text>
<path d="M408.00,251.20H420.00" stroke="#1f1fc0" stroke-width="1.6" fill="none" stroke-dasharray="4.6 3.2"/>
<text x="429.20" y="254.10" font-size="8.0" font-weight="bold" fill="#2b2bb0" text-anchor="start" stroke="#2b2bb0" stroke-width="0.25" transform="translate(0 254.10) scale(1 1.04) translate(0 -254.10)">Favorable/Intermediate</text>
<path d="M408.00,260.40H422.20" stroke="#ac2433" stroke-width="1.5" fill="none" stroke-dasharray="none"/>
<text x="429.20" y="263.30" font-size="8.0" font-weight="bold" fill="#b52a2e" text-anchor="start" stroke="#b52a2e" stroke-width="0.25" transform="translate(0 263.30) scale(1 1.04) translate(0 -263.30)">Adverse</text>
<path d="M323.4,249H326V251H327.7V254H328.5V257H329.1V261H330V265.5H331V270H332.5V274.5H334.4V277.3H337.8V279.5H340.2V281.5H343.1V283.5H345.5V285.5H347V287H349V288.8H353V289H357V290.5H359.5V292H361V294.5H363.5V297.3H384.5V299.5H387V301.3H406.5V303H408.5V305H410.5V307H413V308.5H422.5V310.5H427V311.5H430V313.3H435.4V316H517.9" stroke="#1f1fc0" stroke-width="1.45" fill="none" stroke-dasharray="5 4" stroke-dashoffset="0"/>
<path d="M347.20,288.30H352.20M349.70,285.80V290.80M351.10,289.00H356.10M353.60,286.50V291.50M356.30,290.50H361.30M358.80,288.00V293.00M366.30,297.30H371.30M368.80,294.80V299.80M373.30,297.30H378.30M375.80,294.80V299.80M378.70,297.30H383.70M381.20,294.80V299.80M385.50,301.30H390.50M388.00,298.80V303.80M391.70,301.30H396.70M394.20,298.80V303.80M397.90,301.30H402.90M400.40,298.80V303.80M403.30,301.30H408.30M405.80,298.80V303.80M411.00,308.50H416.00M413.50,306.00V311.00M413.50,308.50H418.50M416.00,306.00V311.00M416.50,308.50H421.50M419.00,306.00V311.00M419.40,308.50H424.40M421.90,306.00V311.00M424.40,311.50H429.40M426.90,309.00V314.00M428.00,313.30H433.00M430.50,310.80V315.80M429.80,313.30H434.80M432.30,310.80V315.80M431.80,313.30H436.80M434.30,310.80V315.80M433.90,316.00H438.90M436.40,313.50V318.50M437.10,316.00H442.10M439.60,313.50V318.50M439.20,316.00H444.20M441.70,313.50V318.50M444.50,316.00H449.50M447.00,313.50V318.50M445.60,316.00H450.60M448.10,313.50V318.50M454.00,316.00H459.00M456.50,313.50V318.50M460.40,316.00H465.40M462.90,313.50V318.50M468.80,316.00H473.80M471.30,313.50V318.50M479.40,316.00H484.40M481.90,313.50V318.50M481.50,316.00H486.50M484.00,313.50V318.50M497.40,316.00H502.40M499.90,313.50V318.50M503.80,316.00H508.80M506.30,313.50V318.50M506.00,316.00H511.00M508.50,313.50V318.50M509.00,316.00H514.00M511.50,313.50V318.50M511.20,316.00H516.20M513.70,313.50V318.50M515.00,316.00H520.00M517.50,313.50V318.50" stroke="#1f1fc0" stroke-width="1.4" fill="none"/>
<path d="M323.4,249H325V253H326V257.5H327V262H327.5V267H328.5V273H329V278H330V282H330.6V286.3H332V288H332.5V292.1H334.4V300H334.9V311H339.2V316.4H342.3V321.3H345.5V327H347.5V330.2H350V335.5H356.1V340.8H369.8V346.1H375.1V351.4H402.6V356.6H435.4V364.5H491.4" stroke="#ac2433" stroke-width="1.45" fill="none" stroke-dasharray="none" stroke-dashoffset="0"/>
<path d="M345.90,330.20H350.90M348.40,327.70V332.70M418.10,356.60H423.10M420.60,354.10V359.10M421.30,356.60H426.30M423.80,354.10V359.10M479.40,364.50H484.40M481.90,362.00V367.00M482.00,364.50H487.00M484.50,362.00V367.00M487.90,364.50H492.90M490.40,362.00V367.00" stroke="#ac2433" stroke-width="1.4" fill="none"/>
<text x="273.10" y="417.20" font-size="8.2" font-weight="bold" fill="#000" text-anchor="start" stroke="#000" stroke-width="0.25" transform="translate(0 417.20) scale(1 1.04) translate(0 -417.20)">No. at risk</text>
<text x="312.50" y="426.80" font-size="8.1" font-weight="bold" fill="#2b2bb0" text-anchor="end" stroke="#2b2bb0" stroke-width="0.25" transform="translate(0 426.80) scale(1 1.04) translate(0 -426.80)">Not Adverse:</text>
<text x="323.40" y="426.80" font-size="6.5" font-weight="bold" fill="#2b2bb0" text-anchor="middle" stroke="#2b2bb0" stroke-width="0.25" transform="translate(0 426.80) scale(1 1.18) translate(0 -426.80)">102</text>
<text x="349.40" y="426.80" font-size="6.5" font-weight="bold" fill="#2b2bb0" text-anchor="middle" stroke="#2b2bb0" stroke-width="0.25" transform="translate(0 426.80) scale(1 1.18) translate(0 -426.80)">73</text>
<text x="375.40" y="426.80" font-size="6.5" font-weight="bold" fill="#2b2bb0" text-anchor="middle" stroke="#2b2bb0" stroke-width="0.25" transform="translate(0 426.80) scale(1 1.18) translate(0 -426.80)">60</text>
<text x="401.40" y="426.80" font-size="6.5" font-weight="bold" fill="#2b2bb0" text-anchor="middle" stroke="#2b2bb0" stroke-width="0.25" transform="translate(0 426.80) scale(1 1.18) translate(0 -426.80)">51</text>
<text x="427.40" y="426.80" font-size="6.5" font-weight="bold" fill="#2b2bb0" text-anchor="middle" stroke="#2b2bb0" stroke-width="0.25" transform="translate(0 426.80) scale(1 1.18) translate(0 -426.80)">34</text>
<text x="453.40" y="426.80" font-size="6.5" font-weight="bold" fill="#2b2bb0" text-anchor="middle" stroke="#2b2bb0" stroke-width="0.25" transform="translate(0 426.80) scale(1 1.18) translate(0 -426.80)">18</text>
<text x="479.40" y="426.80" font-size="6.5" font-weight="bold" fill="#2b2bb0" text-anchor="middle" stroke="#2b2bb0" stroke-width="0.25" transform="translate(0 426.80) scale(1 1.18) translate(0 -426.80)">9</text>
<text x="505.40" y="426.80" font-size="6.5" font-weight="bold" fill="#2b2bb0" text-anchor="middle" stroke="#2b2bb0" stroke-width="0.25" transform="translate(0 426.80) scale(1 1.18) translate(0 -426.80)">5</text>
<text x="312.50" y="436.00" font-size="8.1" font-weight="bold" fill="#b52a2e" text-anchor="end" stroke="#b52a2e" stroke-width="0.25" transform="translate(0 436.00) scale(1 1.04) translate(0 -436.00)">Adverse:</text>
<text x="323.40" y="436.00" font-size="6.5" font-weight="bold" fill="#b52a2e" text-anchor="middle" stroke="#b52a2e" stroke-width="0.25" transform="translate(0 436.00) scale(1 1.18) translate(0 -436.00)">29</text>
<text x="349.40" y="436.00" font-size="6.5" font-weight="bold" fill="#b52a2e" text-anchor="middle" stroke="#b52a2e" stroke-width="0.25" transform="translate(0 436.00) scale(1 1.18) translate(0 -436.00)">11</text>
<text x="375.40" y="436.00" font-size="6.5" font-weight="bold" fill="#b52a2e" text-anchor="middle" stroke="#b52a2e" stroke-width="0.25" transform="translate(0 436.00) scale(1 1.18) translate(0 -436.00)">8</text>
<text x="401.40" y="436.00" font-size="6.5" font-weight="bold" fill="#b52a2e" text-anchor="middle" stroke="#b52a2e" stroke-width="0.25" transform="translate(0 436.00) scale(1 1.18) translate(0 -436.00)">7</text>
<text x="427.40" y="436.00" font-size="6.5" font-weight="bold" fill="#b52a2e" text-anchor="middle" stroke="#b52a2e" stroke-width="0.25" transform="translate(0 436.00) scale(1 1.18) translate(0 -436.00)">4</text>
<text x="453.40" y="436.00" font-size="6.5" font-weight="bold" fill="#b52a2e" text-anchor="middle" stroke="#b52a2e" stroke-width="0.25" transform="translate(0 436.00) scale(1 1.18) translate(0 -436.00)">3</text>
<text x="479.40" y="436.00" font-size="6.5" font-weight="bold" fill="#b52a2e" text-anchor="middle" stroke="#b52a2e" stroke-width="0.25" transform="translate(0 436.00) scale(1 1.18) translate(0 -436.00)">3</text>
<text x="505.40" y="436.00" font-size="6.5" font-weight="bold" fill="#b52a2e" text-anchor="middle" stroke="#b52a2e" stroke-width="0.25" transform="translate(0 436.00) scale(1 1.18) translate(0 -436.00)">0</text>
<text x="0.80" y="461.50" font-size="11.4" font-weight="bold" fill="#000" text-anchor="start" stroke="#000" stroke-width="0.25">E</text>
<path d="M59.4,462.93V607.8H254.90M55.00,607.80H59.4M55.00,580.02H59.4M55.00,552.24H59.4M55.00,524.46H59.4M55.00,496.68H59.4M55.00,468.90H59.4M59.40,607.8V612.40M85.40,607.8V612.40M111.40,607.8V612.40M137.40,607.8V612.40M163.40,607.8V612.40M189.40,607.8V612.40M215.40,607.8V612.40M241.40,607.8V612.40" stroke="#000" stroke-width="1.35" fill="none"/>
<text x="50.40" y="607.80" font-size="6.6" font-weight="bold" fill="#000" text-anchor="middle" stroke="#000" stroke-width="0.25" transform="rotate(-90 50.4 607.8)">0</text>
<text x="50.40" y="580.02" font-size="6.6" font-weight="bold" fill="#000" text-anchor="middle" stroke="#000" stroke-width="0.25" transform="rotate(-90 50.4 580.02)">20</text>
<text x="50.40" y="552.24" font-size="6.6" font-weight="bold" fill="#000" text-anchor="middle" stroke="#000" stroke-width="0.25" transform="rotate(-90 50.4 552.24)">40</text>
<text x="50.40" y="524.46" font-size="6.6" font-weight="bold" fill="#000" text-anchor="middle" stroke="#000" stroke-width="0.25" transform="rotate(-90 50.4 524.4599999999999)">60</text>
<text x="50.40" y="496.68" font-size="6.6" font-weight="bold" fill="#000" text-anchor="middle" stroke="#000" stroke-width="0.25" transform="rotate(-90 50.4 496.67999999999995)">80</text>
<text x="50.40" y="468.90" font-size="6.6" font-weight="bold" fill="#000" text-anchor="middle" stroke="#000" stroke-width="0.25" transform="rotate(-90 50.4 468.9)">100</text>
<text x="59.40" y="622.20" font-size="6.2" font-weight="bold" fill="#000" text-anchor="middle" stroke="#000" stroke-width="0.25" transform="translate(0 622.20) scale(1 1.18) translate(0 -622.20)">0</text>
<text x="85.40" y="622.20" font-size="6.2" font-weight="bold" fill="#000" text-anchor="middle" stroke="#000" stroke-width="0.25" transform="translate(0 622.20) scale(1 1.18) translate(0 -622.20)">1</text>
<text x="111.40" y="622.20" font-size="6.2" font-weight="bold" fill="#000" text-anchor="middle" stroke="#000" stroke-width="0.25" transform="translate(0 622.20) scale(1 1.18) translate(0 -622.20)">2</text>
<text x="137.40" y="622.20" font-size="6.2" font-weight="bold" fill="#000" text-anchor="middle" stroke="#000" stroke-width="0.25" transform="translate(0 622.20) scale(1 1.18) translate(0 -622.20)">3</text>
<text x="163.40" y="622.20" font-size="6.2" font-weight="bold" fill="#000" text-anchor="middle" stroke="#000" stroke-width="0.25" transform="translate(0 622.20) scale(1 1.18) translate(0 -622.20)">4</text>
<text x="189.40" y="622.20" font-size="6.2" font-weight="bold" fill="#000" text-anchor="middle" stroke="#000" stroke-width="0.25" transform="translate(0 622.20) scale(1 1.18) translate(0 -622.20)">5</text>
<text x="215.40" y="622.20" font-size="6.2" font-weight="bold" fill="#000" text-anchor="middle" stroke="#000" stroke-width="0.25" transform="translate(0 622.20) scale(1 1.18) translate(0 -622.20)">6</text>
<text x="241.40" y="622.20" font-size="6.2" font-weight="bold" fill="#000" text-anchor="middle" stroke="#000" stroke-width="0.25" transform="translate(0 622.20) scale(1 1.18) translate(0 -622.20)">7</text>
<text x="156.00" y="632.40" font-size="9.7" font-weight="bold" fill="#000" text-anchor="middle" stroke="#000" stroke-width="0.25" transform="translate(0 632.40) scale(1 1.04) translate(0 -632.40)">Years Post Transplantation</text>
<text x="39.10" y="538.40" font-size="9.85" font-weight="bold" fill="#000" text-anchor="middle" stroke="#000" stroke-width="0.25" transform="rotate(-90 39.099999999999994 538.4)">Disease−Free Survival (%)</text>
<path d="M156.70,471.10H171.80" stroke="#111" stroke-width="1.6" fill="none" stroke-dasharray="none"/>
<text x="178.80" y="474.00" font-size="8.0" font-weight="bold" fill="#000" text-anchor="start" stroke="#000" stroke-width="0.25" transform="translate(0 474.00) scale(1 1.04) translate(0 -474.00)">Flt3/ITD Tested</text>
<path d="M156.70,480.60H169.10" stroke="#1f1fc0" stroke-width="1.6" fill="none" stroke-dasharray="4.9 2.6"/>
<text x="178.80" y="483.50" font-size="8.0" font-weight="bold" fill="#2b2bb0" text-anchor="start" stroke="#2b2bb0" stroke-width="0.25" transform="translate(0 483.50) scale(1 1.04) translate(0 -483.50)">Flt3/ITD Negative</text>
<path d="M156.70,489.90H168.90" stroke="#ac2433" stroke-width="1.7" fill="none" stroke-dasharray="1.7 3.3"/>
<text x="178.80" y="492.80" font-size="8.0" font-weight="bold" fill="#b52a2e" text-anchor="start" stroke="#b52a2e" stroke-width="0.25" transform="translate(0 492.80) scale(1 1.04) translate(0 -492.80)">Flt3/ITD Positive</text>
<path d="M59.5,468.9H61V471H62V475H62.8V480H63.5V484H64.3V489H65.3V492H66.5V495H67.3V498H68.1V501H69.1V503H69.8V507H70.4V511.8H72.2V516H72.6V522.5H73.5V526H75V529H76.5V532.5H78V535.5H79.5V538.8H82V541.5H84V543.7H90V547.5H96V549.4H106V551.5H120V555.2H126V557H242" stroke="#ac2433" stroke-width="1.45" fill="none" stroke-dasharray="1.4 3.4" stroke-dashoffset="0"/>
<path d="M87.30,547.50H92.30M89.80,545.00V550.00M109.50,551.50H114.50M112.00,549.00V554.00M112.50,551.50H117.50M115.00,549.00V554.00M115.20,551.50H120.20M117.70,549.00V554.00M127.70,557.00H132.70M130.20,554.50V559.50M144.00,557.00H149.00M146.50,554.50V559.50M154.60,557.00H159.60M157.10,554.50V559.50M172.90,557.00H177.90M175.40,554.50V559.50M180.30,557.00H185.30M182.80,554.50V559.50M204.60,557.00H209.60M207.10,554.50V559.50M239.50,557.00H244.50M242.00,554.50V559.50" stroke="#ac2433" stroke-width="1.4" fill="none"/>
<path d="M59.5,468.9H61V471H62V475H62.8V480H63.5V484H64.3V489H65.3V492H66.5V495H67.3V498H68.1V501H69.1V503H69.8V507H70.4V511.8H72.2V516H72.6V522.5H74V524.5H75.4V526.3H79.2V527.3H82V530H85V532.1H90V535H96V537H103.3V539.5H120V542.7H126V544.6H148V547.5H156V550H159.5V553H162V559.1H174.3V569.9H219.8" stroke="#1f1fc0" stroke-width="1.45" fill="none" stroke-dasharray="5 4" stroke-dashoffset="0"/>
<path d="M102.70,539.50H107.70M105.20,537.00V542.00M135.40,544.60H140.40M137.90,542.10V547.10M140.20,544.60H145.20M142.70,542.10V547.10M148.80,547.50H153.80M151.30,545.00V550.00M152.70,547.50H157.70M155.20,545.00V550.00M164.50,559.10H169.50M167.00,556.60V561.60M168.50,559.10H173.50M171.00,556.60V561.60M178.20,569.90H183.20M180.70,567.40V572.40M190.90,569.90H195.90M193.40,567.40V572.40M215.20,569.90H220.20M217.70,567.40V572.40" stroke="#1f1fc0" stroke-width="1.4" fill="none"/>
<path d="M59.5,468.9H61V471H62V475H62.8V480H63.5V484H64.3V489H65.3V492H66.5V495H67.3V498H68.1V501H69.1V503H69.8V507H70.4V511.8H72.2V516H72.6V522.5H74V524.5H75.4V526.3H77.5V528.2H79V531H80.4V532.8H82V535H84V536.3H87.3V537.4H88.8V538.8H91.7V540.8H95.8V541.5H98.5V542.7H104V544.2H121.5V549.4H144.6V551.3H152V553H158V555.2H162.7V558.1H175.4V563.6H242" stroke="#111" stroke-width="1.45" fill="none" stroke-dasharray="none" stroke-dashoffset="0"/>
<path d="M102.70,544.20H107.70M105.20,541.70V546.70M109.40,544.20H114.40M111.90,541.70V546.70M114.20,544.20H119.20M116.70,541.70V546.70M128.70,549.40H133.70M131.20,546.90V551.90M134.40,549.40H139.40M136.90,546.90V551.90M140.20,549.40H145.20M142.70,546.90V551.90M151.70,553.00H156.70M154.20,550.50V555.50M163.40,558.10H168.40M165.90,555.60V560.60M166.50,558.10H171.50M169.00,555.60V560.60M169.70,558.10H174.70M172.20,555.60V560.60M179.20,563.60H184.20M181.70,561.10V566.10M190.90,563.60H195.90M193.40,561.10V566.10M204.60,563.60H209.60M207.10,561.10V566.10M214.80,563.60H219.80M217.30,561.10V566.10M239.50,563.60H244.50M242.00,561.10V566.10" stroke="#111" stroke-width="1.4" fill="none"/>
<text x="11.60" y="637.00" font-size="8.2" font-weight="bold" fill="#000" text-anchor="start" stroke="#000" stroke-width="0.25" transform="translate(0 637.00) scale(1 1.04) translate(0 -637.00)">No. at risk</text>
<text x="48.00" y="646.60" font-size="8.2" font-weight="bold" fill="#000" text-anchor="end" stroke="#000" stroke-width="0.25" transform="translate(0 646.60) scale(1 1.04) translate(0 -646.60)">Tested:</text>
<text x="59.40" y="646.60" font-size="6.5" font-weight="bold" fill="#000" text-anchor="middle" stroke="#000" stroke-width="0.25" transform="translate(0 646.60) scale(1 1.18) translate(0 -646.60)">92</text>
<text x="85.40" y="646.60" font-size="6.5" font-weight="bold" fill="#000" text-anchor="middle" stroke="#000" stroke-width="0.25" transform="translate(0 646.60) scale(1 1.18) translate(0 -646.60)">46</text>
<text x="111.40" y="646.60" font-size="6.5" font-weight="bold" fill="#000" text-anchor="middle" stroke="#000" stroke-width="0.25" transform="translate(0 646.60) scale(1 1.18) translate(0 -646.60)">40</text>
<text x="137.40" y="646.60" font-size="6.5" font-weight="bold" fill="#000" text-anchor="middle" stroke="#000" stroke-width="0.25" transform="translate(0 646.60) scale(1 1.18) translate(0 -646.60)">32</text>
<text x="163.40" y="646.60" font-size="6.5" font-weight="bold" fill="#000" text-anchor="middle" stroke="#000" stroke-width="0.25" transform="translate(0 646.60) scale(1 1.18) translate(0 -646.60)">17</text>
<text x="189.40" y="646.60" font-size="6.5" font-weight="bold" fill="#000" text-anchor="middle" stroke="#000" stroke-width="0.25" transform="translate(0 646.60) scale(1 1.18) translate(0 -646.60)">6</text>
<text x="215.40" y="646.60" font-size="6.5" font-weight="bold" fill="#000" text-anchor="middle" stroke="#000" stroke-width="0.25" transform="translate(0 646.60) scale(1 1.18) translate(0 -646.60)">3</text>
<text x="241.40" y="646.60" font-size="6.5" font-weight="bold" fill="#000" text-anchor="middle" stroke="#000" stroke-width="0.25" transform="translate(0 646.60) scale(1 1.18) translate(0 -646.60)">1</text>
<text x="48.00" y="655.80" font-size="8.2" font-weight="bold" fill="#2b2bb0" text-anchor="end" stroke="#2b2bb0" stroke-width="0.25" transform="translate(0 655.80) scale(1 1.04) translate(0 -655.80)">Negative:</text>
<text x="59.40" y="655.80" font-size="6.5" font-weight="bold" fill="#2b2bb0" text-anchor="middle" stroke="#2b2bb0" stroke-width="0.25" transform="translate(0 655.80) scale(1 1.18) translate(0 -655.80)">55</text>
<text x="85.40" y="655.80" font-size="6.5" font-weight="bold" fill="#2b2bb0" text-anchor="middle" stroke="#2b2bb0" stroke-width="0.25" transform="translate(0 655.80) scale(1 1.18) translate(0 -655.80)">30</text>
<text x="111.40" y="655.80" font-size="6.5" font-weight="bold" fill="#2b2bb0" text-anchor="middle" stroke="#2b2bb0" stroke-width="0.25" transform="translate(0 655.80) scale(1 1.18) translate(0 -655.80)">26</text>
<text x="137.40" y="655.80" font-size="6.5" font-weight="bold" fill="#2b2bb0" text-anchor="middle" stroke="#2b2bb0" stroke-width="0.25" transform="translate(0 655.80) scale(1 1.18) translate(0 -655.80)">23</text>
<text x="163.40" y="655.80" font-size="6.5" font-weight="bold" fill="#2b2bb0" text-anchor="middle" stroke="#2b2bb0" stroke-width="0.25" transform="translate(0 655.80) scale(1 1.18) translate(0 -655.80)">10</text>
<text x="189.40" y="655.80" font-size="6.5" font-weight="bold" fill="#2b2bb0" text-anchor="middle" stroke="#2b2bb0" stroke-width="0.25" transform="translate(0 655.80) scale(1 1.18) translate(0 -655.80)">3</text>
<text x="215.40" y="655.80" font-size="6.5" font-weight="bold" fill="#2b2bb0" text-anchor="middle" stroke="#2b2bb0" stroke-width="0.25" transform="translate(0 655.80) scale(1 1.18) translate(0 -655.80)">2</text>
<text x="241.40" y="655.80" font-size="6.5" font-weight="bold" fill="#2b2bb0" text-anchor="middle" stroke="#2b2bb0" stroke-width="0.25" transform="translate(0 655.80) scale(1 1.18) translate(0 -655.80)">0</text>
<text x="48.00" y="664.70" font-size="8.2" font-weight="bold" fill="#b52a2e" text-anchor="end" stroke="#b52a2e" stroke-width="0.25" transform="translate(0 664.70) scale(1 1.04) translate(0 -664.70)">Positive:</text>
<text x="59.40" y="664.70" font-size="6.5" font-weight="bold" fill="#b52a2e" text-anchor="middle" stroke="#b52a2e" stroke-width="0.25" transform="translate(0 664.70) scale(1 1.18) translate(0 -664.70)">37</text>
<text x="85.40" y="664.70" font-size="6.5" font-weight="bold" fill="#b52a2e" text-anchor="middle" stroke="#b52a2e" stroke-width="0.25" transform="translate(0 664.70) scale(1 1.18) translate(0 -664.70)">16</text>
<text x="111.40" y="664.70" font-size="6.5" font-weight="bold" fill="#b52a2e" text-anchor="middle" stroke="#b52a2e" stroke-width="0.25" transform="translate(0 664.70) scale(1 1.18) translate(0 -664.70)">14</text>
<text x="137.40" y="664.70" font-size="6.5" font-weight="bold" fill="#b52a2e" text-anchor="middle" stroke="#b52a2e" stroke-width="0.25" transform="translate(0 664.70) scale(1 1.18) translate(0 -664.70)">9</text>
<text x="163.40" y="664.70" font-size="6.5" font-weight="bold" fill="#b52a2e" text-anchor="middle" stroke="#b52a2e" stroke-width="0.25" transform="translate(0 664.70) scale(1 1.18) translate(0 -664.70)">7</text>
<text x="189.40" y="664.70" font-size="6.5" font-weight="bold" fill="#b52a2e" text-anchor="middle" stroke="#b52a2e" stroke-width="0.25" transform="translate(0 664.70) scale(1 1.18) translate(0 -664.70)">3</text>
<text x="215.40" y="664.70" font-size="6.5" font-weight="bold" fill="#b52a2e" text-anchor="middle" stroke="#b52a2e" stroke-width="0.25" transform="translate(0 664.70) scale(1 1.18) translate(0 -664.70)">1</text>
<text x="241.40" y="664.70" font-size="6.5" font-weight="bold" fill="#b52a2e" text-anchor="middle" stroke="#b52a2e" stroke-width="0.25" transform="translate(0 664.70) scale(1 1.18) translate(0 -664.70)">1</text>
<text x="261.00" y="461.50" font-size="11.4" font-weight="bold" fill="#000" text-anchor="start" stroke="#000" stroke-width="0.25">F</text>
<path d="M323.4,462.93V607.8H518.90M319.00,607.80H323.4M319.00,580.02H323.4M319.00,552.24H323.4M319.00,524.46H323.4M319.00,496.68H323.4M319.00,468.90H323.4M323.40,607.8V612.40M349.40,607.8V612.40M375.40,607.8V612.40M401.40,607.8V612.40M427.40,607.8V612.40M453.40,607.8V612.40M479.40,607.8V612.40M505.40,607.8V612.40" stroke="#000" stroke-width="1.35" fill="none"/>
<text x="314.40" y="607.80" font-size="6.6" font-weight="bold" fill="#000" text-anchor="middle" stroke="#000" stroke-width="0.25" transform="rotate(-90 314.4 607.8)">0</text>
<text x="314.40" y="580.02" font-size="6.6" font-weight="bold" fill="#000" text-anchor="middle" stroke="#000" stroke-width="0.25" transform="rotate(-90 314.4 580.02)">20</text>
<text x="314.40" y="552.24" font-size="6.6" font-weight="bold" fill="#000" text-anchor="middle" stroke="#000" stroke-width="0.25" transform="rotate(-90 314.4 552.24)">40</text>
<text x="314.40" y="524.46" font-size="6.6" font-weight="bold" fill="#000" text-anchor="middle" stroke="#000" stroke-width="0.25" transform="rotate(-90 314.4 524.4599999999999)">60</text>
<text x="314.40" y="496.68" font-size="6.6" font-weight="bold" fill="#000" text-anchor="middle" stroke="#000" stroke-width="0.25" transform="rotate(-90 314.4 496.67999999999995)">80</text>
<text x="314.40" y="468.90" font-size="6.6" font-weight="bold" fill="#000" text-anchor="middle" stroke="#000" stroke-width="0.25" transform="rotate(-90 314.4 468.9)">100</text>
<text x="323.40" y="622.20" font-size="6.2" font-weight="bold" fill="#000" text-anchor="middle" stroke="#000" stroke-width="0.25" transform="translate(0 622.20) scale(1 1.18) translate(0 -622.20)">0</text>
<text x="349.40" y="622.20" font-size="6.2" font-weight="bold" fill="#000" text-anchor="middle" stroke="#000" stroke-width="0.25" transform="translate(0 622.20) scale(1 1.18) translate(0 -622.20)">1</text>
<text x="375.40" y="622.20" font-size="6.2" font-weight="bold" fill="#000" text-anchor="middle" stroke="#000" stroke-width="0.25" transform="translate(0 622.20) scale(1 1.18) translate(0 -622.20)">2</text>
<text x="401.40" y="622.20" font-size="6.2" font-weight="bold" fill="#000" text-anchor="middle" stroke="#000" stroke-width="0.25" transform="translate(0 622.20) scale(1 1.18) translate(0 -622.20)">3</text>
<text x="427.40" y="622.20" font-size="6.2" font-weight="bold" fill="#000" text-anchor="middle" stroke="#000" stroke-width="0.25" transform="translate(0 622.20) scale(1 1.18) translate(0 -622.20)">4</text>
<text x="453.40" y="622.20" font-size="6.2" font-weight="bold" fill="#000" text-anchor="middle" stroke="#000" stroke-width="0.25" transform="translate(0 622.20) scale(1 1.18) translate(0 -622.20)">5</text>
<text x="479.40" y="622.20" font-size="6.2" font-weight="bold" fill="#000" text-anchor="middle" stroke="#000" stroke-width="0.25" transform="translate(0 622.20) scale(1 1.18) translate(0 -622.20)">6</text>
<text x="505.40" y="622.20" font-size="6.2" font-weight="bold" fill="#000" text-anchor="middle" stroke="#000" stroke-width="0.25" transform="translate(0 622.20) scale(1 1.18) translate(0 -622.20)">7</text>
<text x="420.00" y="632.40" font-size="9.7" font-weight="bold" fill="#000" text-anchor="middle" stroke="#000" stroke-width="0.25" transform="translate(0 632.40) scale(1 1.04) translate(0 -632.40)">Years Post Transplantation</text>
<text x="303.10" y="538.40" font-size="9.85" font-weight="bold" fill="#000" text-anchor="middle" stroke="#000" stroke-width="0.25" transform="rotate(-90 303.09999999999997 538.4)">Overall Survival (%)</text>
<path d="M420.70,471.10H435.80" stroke="#111" stroke-width="1.6" fill="none" stroke-dasharray="none"/>
<text x="442.80" y="474.00" font-size="8.0" font-weight="bold" fill="#000" text-anchor="start" stroke="#000" stroke-width="0.25" transform="translate(0 474.00) scale(1 1.04) translate(0 -474.00)">Flt3/ITD Tested</text>
<path d="M420.70,480.60H433.10" stroke="#1f1fc0" stroke-width="1.6" fill="none" stroke-dasharray="4.9 2.6"/>
<text x="442.80" y="483.50" font-size="8.0" font-weight="bold" fill="#2b2bb0" text-anchor="start" stroke="#2b2bb0" stroke-width="0.25" transform="translate(0 483.50) scale(1 1.04) translate(0 -483.50)">Flt3/ITD Negative</text>
<path d="M420.70,489.90H432.90" stroke="#ac2433" stroke-width="1.7" fill="none" stroke-dasharray="1.7 3.3"/>
<text x="442.80" y="492.80" font-size="8.0" font-weight="bold" fill="#b52a2e" text-anchor="start" stroke="#b52a2e" stroke-width="0.25" transform="translate(0 492.80) scale(1 1.04) translate(0 -492.80)">Flt3/ITD Positive</text>
<path d="M323.3,468.9H324.5V470H326.5V472H327.3V475H328V477.4H328.8V482H329.5V486.6H330.3V490H331.1V492.8H331.8V496H332.6V498.9H333.8V501H334.9V502.8H335.7V506H336.5V509.7H340.5V514.1H346.5V518H348.7V523H351V526.6H353.5V528.8H356V531H359.2V533.7H362V536H365V538.5H368V541.5H370.8V545.2H373V549H431.5V556.2H506.5" stroke="#ac2433" stroke-width="1.45" fill="none" stroke-dasharray="1.4 3.4" stroke-dashoffset="0"/>
<path d="M350.90,528.90H355.90M353.40,526.40V531.40M373.10,549.00H378.10M375.60,546.50V551.50M377.90,549.00H382.90M380.40,546.50V551.50M391.30,549.00H396.30M393.80,546.50V551.50M407.70,549.00H412.70M410.20,546.50V551.50M417.30,549.00H422.30M419.80,546.50V551.50M425.00,549.00H430.00M427.50,546.50V551.50M431.00,556.20H436.00M433.50,553.70V558.70M436.70,556.20H441.70M439.20,553.70V558.70M444.40,556.20H449.40M446.90,553.70V558.70M445.40,556.20H450.40M447.90,553.70V558.70M468.50,556.20H473.50M471.00,553.70V558.70M496.30,556.20H501.30M498.80,553.70V558.70M503.10,556.20H508.10M505.60,553.70V558.70" stroke="#ac2433" stroke-width="1.4" fill="none"/>
<path d="M323.3,468.9H324.5V470H326.5V472H327.3V475H328V477.4H328.8V482H329.5V486.6H330.3V490H331.1V492.8H331.8V496H332.6V498.9H333.8V501H334.9V502.8H335.7V506H336.5V509.7H340.5V514.1H346.5V516.5H348V517.5H351.1V519.7H355V524.3H403V526.9H406.5V528.5H408.3V530H411V531.5H414V533.1H419V534.5H420.8V535.8H425V536.5H435.4V548.1H518" stroke="#1f1fc0" stroke-width="1.45" fill="none" stroke-dasharray="5 4" stroke-dashoffset="0"/>
<path d="M350.90,519.70H355.90M353.40,517.20V522.20M365.50,524.30H370.50M368.00,521.80V526.80M385.60,524.30H390.60M388.10,521.80V526.80M398.10,524.30H403.10M400.60,521.80V526.80M413.50,533.10H418.50M416.00,530.60V535.60M415.40,533.10H420.40M417.90,530.60V535.60M424.00,536.50H429.00M426.50,534.00V539.00M426.00,536.50H431.00M428.50,534.00V539.00M429.80,536.50H434.80M432.30,534.00V539.00M434.80,548.10H439.80M437.30,545.60V550.60M438.70,548.10H443.70M441.20,545.60V550.60M442.50,548.10H447.50M445.00,545.60V550.60M453.10,548.10H458.10M455.60,545.60V550.60M454.00,548.10H459.00M456.50,545.60V550.60M468.50,548.10H473.50M471.00,545.60V550.60M479.00,548.10H484.00M481.50,545.60V550.60M481.00,548.10H486.00M483.50,545.60V550.60M497.30,548.10H502.30M499.80,545.60V550.60M507.90,548.10H512.90M510.40,545.60V550.60" stroke="#1f1fc0" stroke-width="1.4" fill="none"/>
<path d="M323.3,468.9H324.5V470H326.5V472H327.3V475H328V477.4H328.8V482H329.5V486.6H330.3V490H331.1V492.8H331.8V496H332.6V498.9H333.8V501H334.9V502.8H335.7V506H336.5V509.7H340.5V514.1H346.5V515.5H347.5V518H348.7V520.2H351.1V522H353.5V524H356V526H358.3V527.9H360V529.5H361.5V530.8H367.9V532.5H374.6V535H403V537.5H406V539H408.3V540.4H420.8V541.5H425V542.5H427.5V544.2H436V546.2H437V551.4H518" stroke="#111" stroke-width="1.45" fill="none" stroke-dasharray="none" stroke-dashoffset="0"/>
<path d="M344.50,515.50H349.50M347.00,513.00V518.00M365.50,532.50H370.50M368.00,530.00V535.00M378.80,535.00H383.80M381.30,532.50V537.50M383.70,535.00H388.70M386.20,532.50V537.50M388.50,535.00H393.50M391.00,532.50V537.50M392.30,535.00H397.30M394.80,532.50V537.50M409.60,540.40H414.60M412.10,537.90V542.90M414.40,540.40H419.40M416.90,537.90V542.90M422.10,541.50H427.10M424.60,539.00V544.00M429.80,544.20H434.80M432.30,541.70V546.70M431.70,544.20H436.70M434.20,541.70V546.70M435.80,551.40H440.80M438.30,548.90V553.90M444.40,551.40H449.40M446.90,548.90V553.90M454.00,551.40H459.00M456.50,548.90V553.90M481.00,551.40H486.00M483.50,548.90V553.90M497.30,551.40H502.30M499.80,548.90V553.90" stroke="#111" stroke-width="1.4" fill="none"/>
<text x="275.40" y="637.00" font-size="8.2" font-weight="bold" fill="#000" text-anchor="start" stroke="#000" stroke-width="0.25" transform="translate(0 637.00) scale(1 1.04) translate(0 -637.00)">No. at risk</text>
<text x="311.60" y="646.60" font-size="8.2" font-weight="bold" fill="#000" text-anchor="end" stroke="#000" stroke-width="0.25" transform="translate(0 646.60) scale(1 1.04) translate(0 -646.60)">Tested:</text>
<text x="323.40" y="646.60" font-size="6.5" font-weight="bold" fill="#000" text-anchor="middle" stroke="#000" stroke-width="0.25" transform="translate(0 646.60) scale(1 1.18) translate(0 -646.60)">92</text>
<text x="349.40" y="646.60" font-size="6.5" font-weight="bold" fill="#000" text-anchor="middle" stroke="#000" stroke-width="0.25" transform="translate(0 646.60) scale(1 1.18) translate(0 -646.60)">57</text>
<text x="375.40" y="646.60" font-size="6.5" font-weight="bold" fill="#000" text-anchor="middle" stroke="#000" stroke-width="0.25" transform="translate(0 646.60) scale(1 1.18) translate(0 -646.60)">48</text>
<text x="401.40" y="646.60" font-size="6.5" font-weight="bold" fill="#000" text-anchor="middle" stroke="#000" stroke-width="0.25" transform="translate(0 646.60) scale(1 1.18) translate(0 -646.60)">41</text>
<text x="427.40" y="646.60" font-size="6.5" font-weight="bold" fill="#000" text-anchor="middle" stroke="#000" stroke-width="0.25" transform="translate(0 646.60) scale(1 1.18) translate(0 -646.60)">26</text>
<text x="453.40" y="646.60" font-size="6.5" font-weight="bold" fill="#000" text-anchor="middle" stroke="#000" stroke-width="0.25" transform="translate(0 646.60) scale(1 1.18) translate(0 -646.60)">12</text>
<text x="479.40" y="646.60" font-size="6.5" font-weight="bold" fill="#000" text-anchor="middle" stroke="#000" stroke-width="0.25" transform="translate(0 646.60) scale(1 1.18) translate(0 -646.60)">7</text>
<text x="505.40" y="646.60" font-size="6.5" font-weight="bold" fill="#000" text-anchor="middle" stroke="#000" stroke-width="0.25" transform="translate(0 646.60) scale(1 1.18) translate(0 -646.60)">2</text>
<text x="311.60" y="655.80" font-size="8.2" font-weight="bold" fill="#2b2bb0" text-anchor="end" stroke="#2b2bb0" stroke-width="0.25" transform="translate(0 655.80) scale(1 1.04) translate(0 -655.80)">Negative:</text>
<text x="323.40" y="655.80" font-size="6.5" font-weight="bold" fill="#2b2bb0" text-anchor="middle" stroke="#2b2bb0" stroke-width="0.25" transform="translate(0 655.80) scale(1 1.18) translate(0 -655.80)">55</text>
<text x="349.40" y="655.80" font-size="6.5" font-weight="bold" fill="#2b2bb0" text-anchor="middle" stroke="#2b2bb0" stroke-width="0.25" transform="translate(0 655.80) scale(1 1.18) translate(0 -655.80)">35</text>
<text x="375.40" y="655.80" font-size="6.5" font-weight="bold" fill="#2b2bb0" text-anchor="middle" stroke="#2b2bb0" stroke-width="0.25" transform="translate(0 655.80) scale(1 1.18) translate(0 -655.80)">32</text>
<text x="401.40" y="655.80" font-size="6.5" font-weight="bold" fill="#2b2bb0" text-anchor="middle" stroke="#2b2bb0" stroke-width="0.25" transform="translate(0 655.80) scale(1 1.18) translate(0 -655.80)">30</text>
<text x="427.40" y="655.80" font-size="6.5" font-weight="bold" fill="#2b2bb0" text-anchor="middle" stroke="#2b2bb0" stroke-width="0.25" transform="translate(0 655.80) scale(1 1.18) translate(0 -655.80)">17</text>
<text x="453.40" y="655.80" font-size="6.5" font-weight="bold" fill="#2b2bb0" text-anchor="middle" stroke="#2b2bb0" stroke-width="0.25" transform="translate(0 655.80) scale(1 1.18) translate(0 -655.80)">9</text>
<text x="479.40" y="655.80" font-size="6.5" font-weight="bold" fill="#2b2bb0" text-anchor="middle" stroke="#2b2bb0" stroke-width="0.25" transform="translate(0 655.80) scale(1 1.18) translate(0 -655.80)">5</text>
<text x="505.40" y="655.80" font-size="6.5" font-weight="bold" fill="#2b2bb0" text-anchor="middle" stroke="#2b2bb0" stroke-width="0.25" transform="translate(0 655.80) scale(1 1.18) translate(0 -655.80)">1</text>
<text x="311.60" y="664.70" font-size="8.2" font-weight="bold" fill="#b52a2e" text-anchor="end" stroke="#b52a2e" stroke-width="0.25" transform="translate(0 664.70) scale(1 1.04) translate(0 -664.70)">Positive:</text>
<text x="323.40" y="664.70" font-size="6.5" font-weight="bold" fill="#b52a2e" text-anchor="middle" stroke="#b52a2e" stroke-width="0.25" transform="translate(0 664.70) scale(1 1.18) translate(0 -664.70)">37</text>
<text x="349.40" y="664.70" font-size="6.5" font-weight="bold" fill="#b52a2e" text-anchor="middle" stroke="#b52a2e" stroke-width="0.25" transform="translate(0 664.70) scale(1 1.18) translate(0 -664.70)">22</text>
<text x="375.40" y="664.70" font-size="6.5" font-weight="bold" fill="#b52a2e" text-anchor="middle" stroke="#b52a2e" stroke-width="0.25" transform="translate(0 664.70) scale(1 1.18) translate(0 -664.70)">16</text>
<text x="401.40" y="664.70" font-size="6.5" font-weight="bold" fill="#b52a2e" text-anchor="middle" stroke="#b52a2e" stroke-width="0.25" transform="translate(0 664.70) scale(1 1.18) translate(0 -664.70)">11</text>
<text x="427.40" y="664.70" font-size="6.5" font-weight="bold" fill="#b52a2e" text-anchor="middle" stroke="#b52a2e" stroke-width="0.25" transform="translate(0 664.70) scale(1 1.18) translate(0 -664.70)">9</text>
<text x="453.40" y="664.70" font-size="6.5" font-weight="bold" fill="#b52a2e" text-anchor="middle" stroke="#b52a2e" stroke-width="0.25" transform="translate(0 664.70) scale(1 1.18) translate(0 -664.70)">3</text>
<text x="479.40" y="664.70" font-size="6.5" font-weight="bold" fill="#b52a2e" text-anchor="middle" stroke="#b52a2e" stroke-width="0.25" transform="translate(0 664.70) scale(1 1.18) translate(0 -664.70)">2</text>
<text x="505.40" y="664.70" font-size="6.5" font-weight="bold" fill="#b52a2e" text-anchor="middle" stroke="#b52a2e" stroke-width="0.25" transform="translate(0 664.70) scale(1 1.18) translate(0 -664.70)">1</text>
</svg>
</body></html>
